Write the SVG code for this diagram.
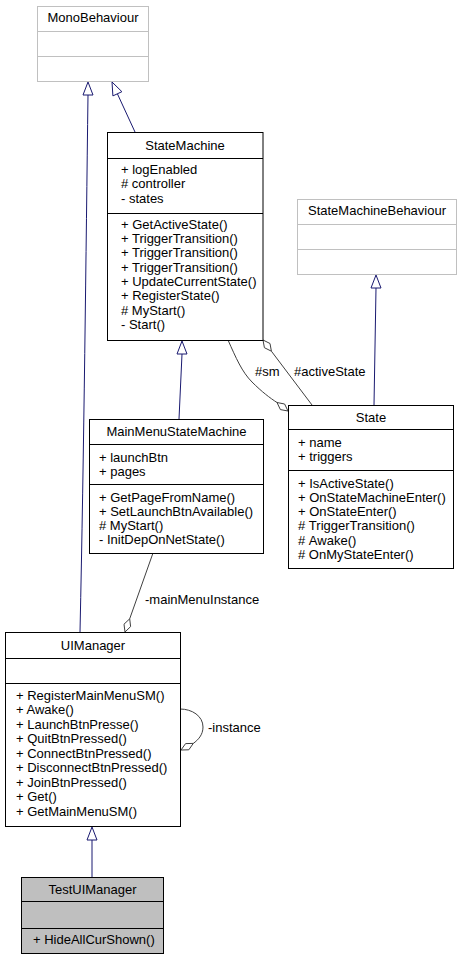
<svg xmlns="http://www.w3.org/2000/svg" width="465" height="959" viewBox="0 0 465 959">
<style>
text{font-family:"Liberation Sans",Arial,sans-serif;font-size:13px;fill:#000}
.t{text-anchor:middle}
.box{fill:#fff;stroke:#000;stroke-width:1}
.ext{fill:#fff;stroke:#c0c0c0;stroke-width:1}
.cur{fill:#bfbfbf;stroke:#000;stroke-width:1}
.dv{stroke:#000;stroke-width:1}
.dvx{stroke:#c0c0c0;stroke-width:1}
.inh{fill:none;stroke:#191970;stroke-width:1}
.inhh{fill:#fff;stroke:#191970;stroke-width:1}
.asc{fill:none;stroke:#404040;stroke-width:1}
.dia{fill:#fff;stroke:#404040;stroke-width:1}
</style>
<rect width="465" height="959" fill="#fff"/>
<g id="connectors">
<path class="inh" d="M80,632 C84,450 86,250 88,95"/>
<polygon class="inhh" points="88,82 83,95 93,95"/>
<path class="inh" d="M135,132 L117.4,93.8"/>
<polygon class="inhh" points="112,82 121.9,91.7 112.9,95.9"/>
<path class="inh" d="M179,419 L182,354"/>
<polygon class="inhh" points="182,341 177,354 187,354"/>
<path class="inh" d="M374,405 L376,288"/>
<polygon class="inhh" points="376,275 371,288 381,288"/>
<path class="inh" d="M92,877 L92,840"/>
<polygon class="inhh" points="92,827 87,840 97,840"/>
<path class="asc" d="M228,340 C236,358 242,372 252,382 C262,392 270,398 277,402.5"/>
<polygon class="dia" points="288,411 284.6,404 277,402.5 280.4,409.6"/>
<text x="255" y="376">#sm</text>
<path class="asc" d="M312,405 L271.4,351.2"/>
<polygon class="dia" points="263,340 264.4,347.7 271.4,351.2 270,343.5"/>
<text x="294" y="376">#activeState</text>
<path class="asc" d="M153,553 L129.7,618.8"/>
<polygon class="dia" points="125,632 130.6,626.6 129.7,618.8 124,624.2"/>
<text x="145" y="604">-mainMenuInstance</text>
<path class="asc" d="M180,709 C192,709 203,716 203,727 C203,735 198,740 193.3,743.4"/>
<polygon class="dia" points="181,750 188.8,749.8 193.3,743.4 185.6,743.6"/>
<text x="208" y="732">-instance</text>
</g>
<g id="MonoBehaviour">
<rect class="ext" x="37.5" y="6.5" width="111" height="75"/>
<line class="dvx" x1="37.5" y1="31.5" x2="148.5" y2="31.5"/>
<line class="dvx" x1="37.5" y1="56.5" x2="148.5" y2="56.5"/>
<text class="t" x="93" y="22">MonoBehaviour</text>
</g>
<g id="StateMachine">
<rect class="box" x="107.5" y="132.5" width="155.5" height="208"/>
<line class="dv" x1="107.5" y1="158.5" x2="263" y2="158.5"/>
<line class="dv" x1="107.5" y1="213.5" x2="263" y2="213.5"/>
<text class="t" x="185" y="149.5">StateMachine</text>
<text x="121" y="173.5">+ logEnabled</text>
<text x="121" y="188">#&#160;controller</text>
<text x="121" y="202.5">- states</text>
<text x="121" y="228.8">+ GetActiveState()</text>
<text x="121" y="243.1">+ TriggerTransition()</text>
<text x="121" y="257.4">+ TriggerTransition()</text>
<text x="121" y="271.7">+ TriggerTransition()</text>
<text x="121" y="286">+ UpdateCurrentState()</text>
<text x="121" y="300.3">+ RegisterState()</text>
<text x="121" y="314.6">#&#160;MyStart()</text>
<text x="121" y="328.9">- Start()</text>
</g>
<g id="StateMachineBehaviour">
<rect class="ext" x="297.5" y="199.5" width="159" height="75"/>
<line class="dvx" x1="297.5" y1="224.5" x2="456.5" y2="224.5"/>
<line class="dvx" x1="297.5" y1="249.5" x2="456.5" y2="249.5"/>
<text class="t" x="377" y="215">StateMachineBehaviour</text>
</g>
<g id="State">
<rect class="box" x="288.5" y="405.5" width="165" height="163"/>
<line class="dv" x1="288.5" y1="429.5" x2="453.5" y2="429.5"/>
<line class="dv" x1="288.5" y1="470.5" x2="453.5" y2="470.5"/>
<text class="t" x="371" y="421.5">State</text>
<text x="298" y="446.5">+ name</text>
<text x="298" y="461">+ triggers</text>
<text x="298" y="487.5">+ IsActiveState()</text>
<text x="298" y="501.8">+ OnStateMachineEnter()</text>
<text x="298" y="516.1">+ OnStateEnter()</text>
<text x="298" y="530.4">#&#160;TriggerTransition()</text>
<text x="298" y="544.7">#&#160;Awake()</text>
<text x="298" y="559">#&#160;OnMyStateEnter()</text>
</g>
<g id="MainMenuStateMachine">
<rect class="box" x="89.5" y="419.5" width="174" height="134"/>
<line class="dv" x1="89.5" y1="444.5" x2="263.5" y2="444.5"/>
<line class="dv" x1="89.5" y1="484.5" x2="263.5" y2="484.5"/>
<text class="t" x="176.5" y="435.5">MainMenuStateMachine</text>
<text x="99" y="461.5">+ launchBtn</text>
<text x="99" y="475.8">+ pages</text>
<text x="99" y="501.5">+ GetPageFromName()</text>
<text x="99" y="515.8">+ SetLaunchBtnAvailable()</text>
<text x="99" y="530.1">#&#160;MyStart()</text>
<text x="99" y="544.4">- InitDepOnNetState()</text>
</g>
<g id="UIManager">
<rect class="box" x="5.5" y="632.5" width="175" height="194"/>
<line class="dv" x1="5.5" y1="658.5" x2="180.5" y2="658.5"/>
<line class="dv" x1="5.5" y1="683.5" x2="180.5" y2="683.5"/>
<text class="t" x="93" y="649.5">UIManager</text>
<text x="16" y="699.5">+ RegisterMainMenuSM()</text>
<text x="16" y="714">+ Awake()</text>
<text x="16" y="728.5">+ LaunchBtnPresse()</text>
<text x="16" y="743">+ QuitBtnPressed()</text>
<text x="16" y="757.5">+ ConnectBtnPressed()</text>
<text x="16" y="772">+ DisconnectBtnPressed()</text>
<text x="16" y="786.5">+ JoinBtnPressed()</text>
<text x="16" y="801">+ Get()</text>
<text x="16" y="815.5">+ GetMainMenuSM()</text>
</g>
<g id="TestUIManager">
<rect class="cur" x="21.5" y="877.5" width="142" height="76"/>
<line class="dv" x1="21.5" y1="901.5" x2="163.5" y2="901.5"/>
<line class="dv" x1="21.5" y1="928.5" x2="163.5" y2="928.5"/>
<text class="t" x="92.5" y="893.5">TestUIManager</text>
<text x="33" y="943.5">+ HideAllCurShown()</text>
</g>
</svg>
